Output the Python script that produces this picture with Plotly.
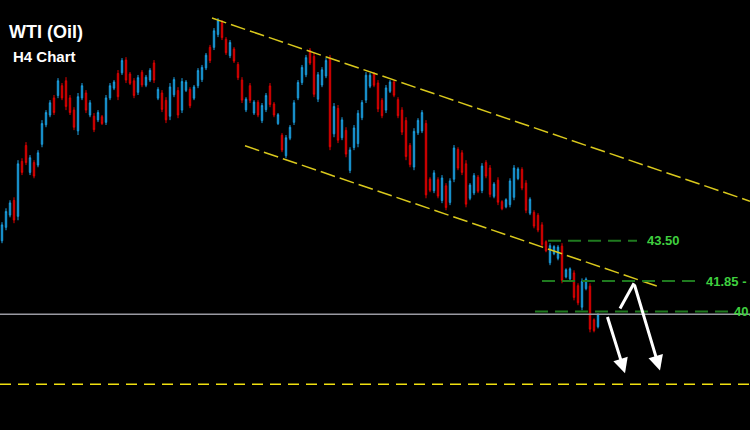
import plotly.graph_objects as go

# ---- data ----
opens = [43.50, 44.05, 44.55, 45.15, 44.50, 46.75, 47.40, 46.30, 46.70, 46.60,
 47.45, 48.25, 48.65, 49.35, 49.45, 49.85, 50.05, 49.35, 48.85, 48.00,
 49.35, 49.55, 48.65, 48.60, 48.45, 48.58, 48.35, 49.35, 49.75, 50.35,
 50.38, 50.90, 50.33, 50.05, 49.58, 50.40, 49.87, 50.08, 50.78, 49.34,
 49.55, 49.25, 48.60, 49.48, 49.65, 48.85, 49.66, 49.70, 49.34, 49.85,
 50.10, 50.58, 51.42, 51.42, 51.95, 52.44, 51.75, 51.08, 51.35, 50.72,
 50.08, 48.86, 49.85, 48.73, 49.17, 48.42, 48.87, 49.84, 49.10, 48.30,
 47.82, 46.98, 47.70, 48.35, 49.35, 49.98, 50.30, 51.30, 51.05, 49.30,
 49.88, 50.25, 50.95, 47.88, 48.92, 47.72, 48.02, 46.38, 47.32, 47.48,
 48.54, 49.26, 49.83, 50.33, 49.96, 49.25, 48.85, 49.62, 50.00, 49.28,
 48.85, 48.42, 47.40, 46.52, 47.92, 48.00, 48.30, 46.02, 45.55, 46.00,
 45.15, 45.75, 45.07, 46.02, 47.24, 47.10, 46.65, 45.24, 45.46, 46.10,
 45.56, 46.70, 46.48, 45.32, 45.98, 45.10, 44.89, 44.98, 45.28, 46.05,
 46.42, 45.86, 44.63, 44.66, 44.54, 44.15, 43.46, 42.60, 42.97, 42.78,
 43.28, 42.02, 41.94, 42.18, 41.66, 40.78, 41.54, 41.64, 40.26, 39.98]

highs = [44.26, 44.83, 45.16, 45.28, 46.80, 46.88, 47.54, 47.01, 46.80, 47.21,
 48.44, 48.85, 49.26, 49.47, 50.16, 49.96, 50.20, 49.47, 48.97, 49.55,
 49.96, 49.67, 49.26, 48.73, 48.85, 48.65, 49.47, 49.96, 50.08, 50.49,
 50.98, 51.02, 50.41, 50.16, 50.29, 50.49, 50.29, 50.57, 50.90, 49.79,
 49.67, 49.38, 49.96, 50.20, 49.79, 50.16, 50.08, 49.79, 49.88, 50.57,
 50.70, 51.19, 51.52, 52.21, 52.62, 52.54, 51.84, 51.72, 51.43, 50.82,
 50.20, 49.38, 49.96, 49.26, 49.26, 49.14, 49.55, 49.96, 49.18, 48.73,
 47.91, 47.83, 48.24, 49.26, 50.08, 50.70, 51.11, 51.39, 51.19, 50.41,
 50.61, 50.98, 51.11, 49.14, 49.06, 48.56, 48.15, 47.33, 48.24, 48.85,
 49.26, 50.41, 50.37, 50.41, 50.08, 49.34, 49.88, 50.08, 50.08, 49.38,
 48.97, 48.56, 47.50, 48.11, 48.52, 48.85, 48.44, 46.10, 46.39, 46.10,
 46.19, 45.86, 46.06, 47.42, 47.33, 47.21, 46.80, 45.86, 46.27, 46.19,
 46.68, 46.80, 46.60, 45.90, 46.10, 45.16, 45.24, 46.06, 46.60, 46.51,
 46.51, 45.98, 45.28, 44.75, 44.63, 44.26, 43.52, 43.40, 43.32, 43.32,
 43.40, 42.37, 42.41, 42.29, 41.76, 41.96, 42.00, 41.76, 40.32, 40.53]

lows = [43.40, 43.93, 44.46, 44.22, 44.34, 46.19, 46.60, 46.19, 46.06, 46.51,
 47.33, 48.15, 48.56, 48.65, 49.34, 49.26, 48.85, 48.65, 48.03, 47.83,
 49.26, 48.73, 48.56, 47.95, 48.36, 48.24, 48.24, 49.26, 49.67, 49.26,
 50.29, 49.96, 49.88, 49.34, 49.47, 49.79, 49.79, 50.00, 49.96, 49.26,
 48.77, 48.32, 48.44, 49.38, 48.52, 48.73, 49.59, 48.93, 49.26, 49.75,
 50.00, 50.49, 50.78, 51.31, 51.84, 51.72, 51.11, 50.98, 50.78, 50.08,
 49.14, 48.77, 49.14, 48.65, 48.56, 48.32, 48.77, 48.97, 48.56, 48.24,
 47.13, 46.88, 47.62, 48.24, 49.26, 49.88, 50.20, 50.70, 49.38, 49.18,
 49.79, 50.16, 47.21, 47.74, 47.50, 47.62, 46.92, 46.27, 47.21, 47.33,
 48.44, 49.14, 49.75, 49.79, 48.77, 48.52, 48.73, 49.55, 49.38, 48.52,
 47.83, 46.80, 46.51, 46.39, 47.83, 47.91, 45.24, 45.49, 45.45, 45.24,
 45.04, 44.75, 44.96, 45.90, 46.39, 46.19, 44.87, 45.16, 45.37, 45.45,
 45.45, 46.06, 45.28, 45.24, 44.96, 44.75, 44.83, 44.87, 45.16, 45.98,
 45.57, 44.63, 44.55, 44.01, 43.85, 43.23, 43.03, 42.50, 42.91, 42.70,
 41.76, 41.96, 41.88, 41.06, 40.86, 40.65, 41.47, 39.75, 39.75, 39.91]

closes = [44.15, 44.70, 45.05, 44.35, 46.65, 46.30, 46.70, 46.90, 46.15, 47.10,
 48.30, 48.75, 49.15, 48.75, 50.05, 49.35, 49.00, 48.75, 48.15, 49.40,
 49.85, 48.85, 49.15, 48.05, 48.75, 48.30, 49.35, 49.85, 50.00, 49.40,
 50.88, 50.08, 49.95, 49.45, 50.18, 49.88, 50.20, 50.48, 50.08, 49.70,
 48.88, 48.45, 49.80, 50.10, 48.65, 50.02, 50.00, 49.03, 49.80, 50.47,
 50.60, 51.10, 50.88, 52.10, 52.52, 51.82, 51.20, 51.62, 50.86, 50.18,
 49.26, 49.30, 49.25, 49.18, 48.65, 49.04, 49.45, 49.08, 48.65, 48.66,
 47.22, 47.72, 48.15, 49.15, 49.98, 50.60, 51.00, 50.78, 49.50, 50.30,
 50.50, 50.88, 47.35, 49.00, 47.62, 48.45, 47.05, 47.22, 48.12, 48.72,
 49.16, 50.28, 50.28, 49.87, 48.90, 48.62, 49.76, 50.00, 49.46, 48.62,
 47.95, 46.95, 46.62, 47.98, 48.43, 48.75, 45.38, 45.57, 46.28, 45.33,
 46.07, 44.86, 45.95, 47.30, 46.48, 46.30, 45.00, 45.78, 46.17, 45.53,
 46.56, 46.15, 45.40, 45.82, 45.08, 44.81, 45.18, 45.95, 46.48, 46.44,
 45.66, 44.75, 45.20, 44.10, 43.94, 43.34, 43.09, 43.30, 43.26, 43.24,
 41.88, 42.31, 42.35, 41.18, 40.96, 41.84, 41.93, 39.88, 39.82, 40.46]

bars = list(range(len(closes)))

# channel lines: (bar, price) anchors
upper_channel_x = [52.5, 187.0]
upper_channel_y = [52.62, 45.12]
lower_channel_x = [60.75, 164.5]
lower_channel_y = [47.39, 41.60]

# support / resistance levels: price, start bar, end bar, label bar, label
level_prices = [43.50, 41.85, 40.60]
level_start = [136.5, 135.0, 133.25]
level_end = [158.75, 173.75, 181.5]
level_label_x = [160.75, 175.6, 182.5]
level_labels = ["43.50", "41.85 - 42.00", "40.60"]

last_price = 40.49
target_price = 37.62

# projected paths (bar, price)
path1_x = [154.5, 158.0, 164.5]
path1_y = [40.73, 41.76, 38.19]
path2_x = [151.25, 155.75]
path2_y = [40.44, 38.07]

fig = go.Figure()
fig.add_trace(go.Candlestick(
    x=bars, open=opens, high=highs, low=lows, close=closes,
    increasing=dict(line=dict(color="#1c9fe0", width=1), fillcolor="#0b6590"),
    decreasing=dict(line=dict(color="#e00000", width=1), fillcolor="#8a0000"),
    whiskerwidth=0, showlegend=False, hoverinfo="skip"))

# channel
fig.add_trace(go.Scatter(x=upper_channel_x, y=upper_channel_y, mode="lines",
                         line=dict(color="#d9c81c", width=1.5, dash="15px,5px"),
                         showlegend=False, hoverinfo="skip"))
fig.add_trace(go.Scatter(x=lower_channel_x, y=lower_channel_y, mode="lines",
                         line=dict(color="#d9c81c", width=1.5, dash="15px,5px"),
                         showlegend=False, hoverinfo="skip"))

shapes = []
# current price line
shapes.append(dict(type="line", xref="paper", x0=0, x1=1, yref="y",
                   y0=last_price, y1=last_price,
                   line=dict(color="#9a9aa2", width=1.5)))
# target line
shapes.append(dict(type="line", xref="paper", x0=0, x1=1, yref="y",
                   y0=target_price, y1=target_price,
                   line=dict(color="#f0e010", width=1.5, dash="11px,7px")))

annotations = []
for p, s, e, lx, lab in zip(level_prices, level_start, level_end, level_label_x, level_labels):
    shapes.append(dict(type="line", xref="x", yref="y", x0=s, x1=e, y0=p, y1=p,
                       line=dict(color="#1f7a1f", width=2, dash="13px,7px")))
    annotations.append(dict(x=lx, y=p, xref="x", yref="y", text="<b>%s</b>" % lab,
                            showarrow=False, xanchor="left", yanchor="middle",
                            font=dict(family="Liberation Sans", size=13, color="#3fcf3f")))

# white projection arrows
shapes.append(dict(type="line", xref="x", yref="y",
                   x0=path1_x[0], y0=path1_y[0], x1=path1_x[1], y1=path1_y[1],
                   line=dict(color="white", width=3)))
annotations.append(dict(x=path1_x[2], y=path1_y[2], ax=path1_x[1], ay=path1_y[1],
                        xref="x", yref="y", axref="x", ayref="y", text="",
                        showarrow=True, arrowhead=2, arrowsize=1, arrowwidth=3,
                        arrowcolor="white"))
annotations.append(dict(x=path2_x[1], y=path2_y[1], ax=path2_x[0], ay=path2_y[0],
                        xref="x", yref="y", axref="x", ayref="y", text="",
                        showarrow=True, arrowhead=2, arrowsize=1, arrowwidth=3,
                        arrowcolor="white"))

# titles
annotations.append(dict(x=7 / 750, y=1 - 32 / 430, xref="paper", yref="paper",
                        text="<b>WTI (Oil)</b>", showarrow=False, xanchor="left",
                        yanchor="middle",
                        font=dict(family="Liberation Sans", size=18, color="white")))
annotations.append(dict(x=11 / 750, y=1 - 57 / 430, xref="paper", yref="paper",
                        text="<b>H4 Chart</b>", showarrow=False, xanchor="left",
                        yanchor="middle",
                        font=dict(family="Liberation Sans", size=15, color="white")))

fig.update_layout(
    width=750, height=430,
    margin=dict(l=0, r=0, t=0, b=0),
    paper_bgcolor="black", plot_bgcolor="black",
    boxgap=0.5,
    shapes=shapes, annotations=annotations,
    xaxis=dict(range=[-0.5, 187], visible=False, rangeslider=dict(visible=False),
               fixedrange=True),
    yaxis=dict(range=[35.75, 53.36], visible=False, fixedrange=True),
)

fig.write_html(
    "out.html",
    config={"displayModeBar": False},
    post_script="document.body.style.margin='0';document.body.style.background='black';"
                "document.body.style.overflow='hidden';",
)
